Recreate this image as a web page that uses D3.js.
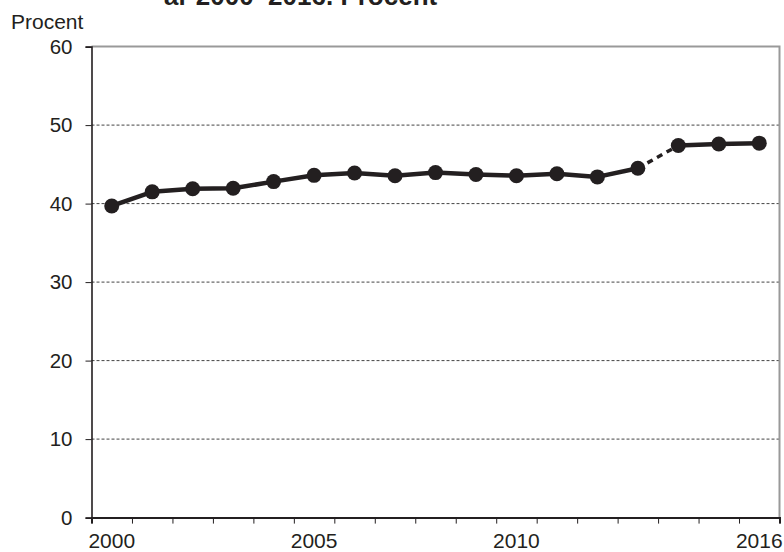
<!DOCTYPE html>
<html>
<head>
<meta charset="utf-8">
<script src="https://cdn.jsdelivr.net/npm/d3@7"></script>
<style>
  html, body { margin: 0; padding: 0; background: #fff; }
  svg { display: block; font-family: "Liberation Sans", Arial, sans-serif; }
</style>
</head>
<body>
<svg id="chart" width="784" height="552"></svg>
<script>
const years = [2000, 2001, 2002, 2003, 2004, 2005, 2006, 2007, 2008, 2009, 2010, 2011, 2012, 2013, 2014, 2015, 2016];
const values = [39.7, 41.5, 41.9, 41.95, 42.8, 43.6, 43.9, 43.55, 43.95, 43.7, 43.55, 43.8, 43.4, 44.5, 47.4, 47.6, 47.7];
const yTicks = [0, 10, 20, 30, 40, 50, 60];
const xTickLabels = [2000, 2005, 2010, 2016];
const breakAfter = 2013; // series break: dashed segment 2013 -> 2014
const titleText = "år 2000–2016. Procent";
const yAxisTitle = "Procent";

(function () {
const svg = d3.select("#chart");
const pLeft = 91.5, pRight = 779.5, pTop = 46.6, pBottom = 517.6;

const x = d3.scaleLinear().domain([years[0] - 0.5, years[years.length - 1] + 0.5]).range([pLeft, pRight]);
const y = d3.scaleLinear().domain([0, 60]).range([pBottom, pTop]);

const ink = "#231f20";

// title (cut off at top, as in the source)
svg.append("text").attr("x", 164).attr("y", 5)
  .attr("font-size", 26).attr("font-weight", "bold").attr("fill", ink)
  .text(titleText);

svg.append("text").attr("x", 11).attr("y", 29)
  .attr("font-size", 21).attr("fill", ink).text(yAxisTitle);

// gridlines
svg.append("g").selectAll("line").data(yTicks.filter(d => d > 0 && d < 60)).join("line")
  .attr("x1", pLeft).attr("x2", pRight)
  .attr("y1", d => y(d)).attr("y2", d => y(d))
  .attr("stroke", "#444").attr("stroke-width", 1).attr("stroke-dasharray", "3,2");

// frame top and right (gray)
svg.append("path")
  .attr("d", `M${pLeft},${y(60)}H${x(years[years.length-1]+0.5)}V${y(0)}`)
  .attr("fill", "none").attr("stroke", "#999").attr("stroke-width", 2);

// y axis
const yAxis = d3.axisLeft(y).tickValues(yTicks).tickSize(6).tickPadding(13).tickFormat(d3.format("d"));
const gy = svg.append("g").attr("transform", `translate(${pLeft},0)`).call(yAxis);
gy.select(".domain").attr("stroke", ink).attr("stroke-width", 1.6);
gy.selectAll(".tick line").attr("stroke", ink).attr("stroke-width", 1);
gy.selectAll(".tick text").attr("font-size", 20.5).attr("fill", ink)
  .attr("font-family", "'Liberation Sans', Arial, sans-serif");

// x axis: ticks at year boundaries
const boundaries = d3.range(years[0] - 0.5, years[years.length - 1] + 1, 1);
const xAxis = d3.axisBottom(x).tickValues(boundaries).tickSize(6).tickFormat("");
const gx = svg.append("g").attr("transform", `translate(0,${pBottom})`).call(xAxis);
gx.select(".domain").attr("stroke", ink).attr("stroke-width", 2);
gx.selectAll(".tick line").attr("stroke", ink).attr("stroke-width", 1);

svg.append("g").selectAll("text").data(xTickLabels).join("text")
  .attr("x", d => x(d)).attr("y", 548)
  .attr("text-anchor", "middle").attr("font-size", 21).attr("fill", ink)
  .text(d => d);

// line
const pts = years.map((yr, i) => ({ yr, v: values[i] }));
const line = d3.line().x(d => x(d.yr)).y(d => y(d.v));
const solid1 = pts.filter(d => d.yr <= breakAfter);
const solid2 = pts.filter(d => d.yr > breakAfter);
const dashed = pts.filter(d => d.yr === breakAfter || d.yr === breakAfter + 1);

svg.append("path").datum(solid1).attr("d", line)
  .attr("fill", "none").attr("stroke", ink).attr("stroke-width", 4.5).attr("stroke-linejoin", "round");
svg.append("path").datum(solid2).attr("d", line)
  .attr("fill", "none").attr("stroke", ink).attr("stroke-width", 4.5).attr("stroke-linejoin", "round");
svg.append("path").datum(dashed).attr("d", line)
  .attr("fill", "none").attr("stroke", ink).attr("stroke-width", 3.5).attr("stroke-dasharray", "6,5");

svg.append("g").selectAll("circle").data(pts).join("circle")
  .attr("cx", d => x(d.yr)).attr("cy", d => y(d.v)).attr("r", 7.5).attr("fill", ink);
})();
</script>
</body>
</html>
